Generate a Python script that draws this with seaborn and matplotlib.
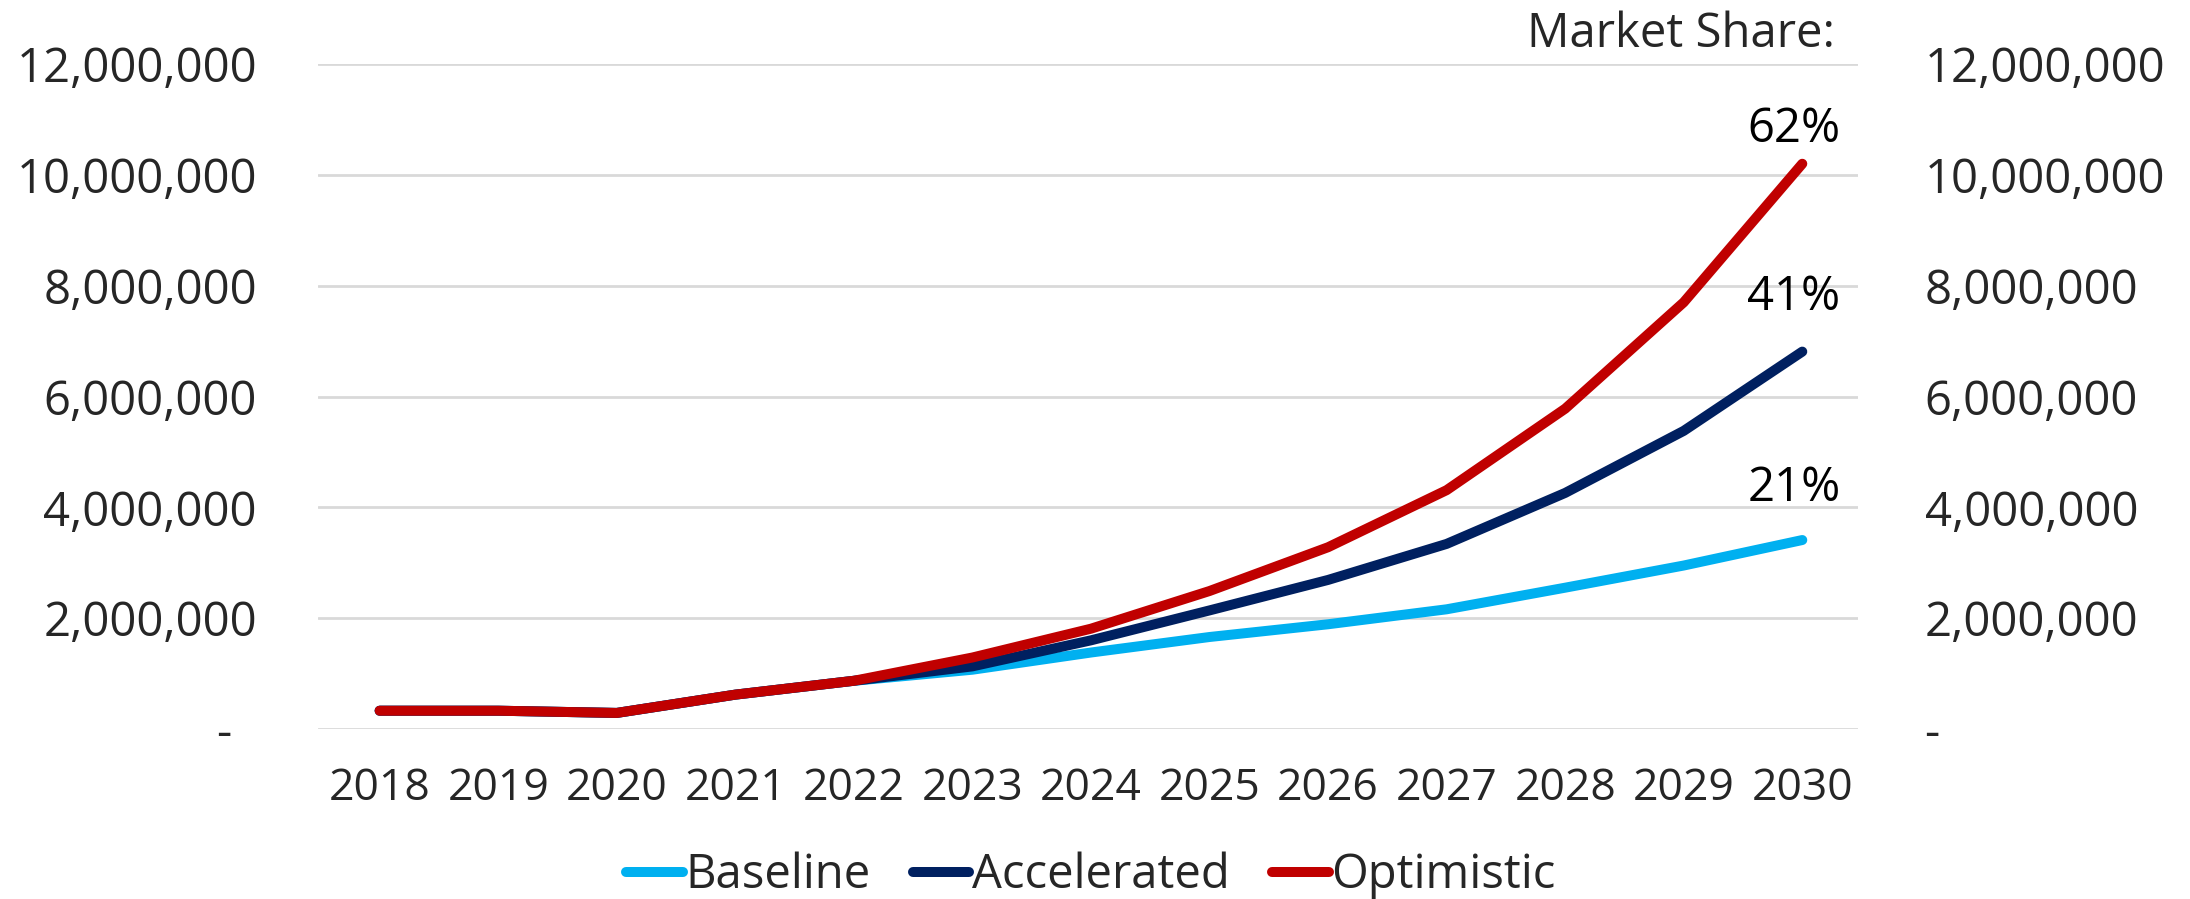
import matplotlib
matplotlib.use("Agg")
import matplotlib.pyplot as plt
import seaborn as sns
import pandas as pd
from matplotlib.ticker import FuncFormatter

years = [2018, 2019, 2020, 2021, 2022, 2023, 2024, 2025, 2026, 2027, 2028, 2029, 2030]
baseline = [330000, 330000, 290000, 620000, 870000, 1070000, 1380000, 1660000, 1890000, 2160000, 2550000, 2950000, 3410000]
accelerated = [330000, 330000, 290000, 620000, 870000, 1130000, 1600000, 2140000, 2690000, 3340000, 4260000, 5380000, 6810000]
optimistic = [330000, 330000, 290000, 620000, 870000, 1290000, 1810000, 2490000, 3280000, 4310000, 5780000, 7700000, 10200000]
scenarios = ["Baseline", "Accelerated", "Optimistic"]
shares = ["21%", "41%", "62%"]
colors = ["#00B0F0", "#002060", "#C00000"]

df = pd.DataFrame({
    "Year": years * 3,
    "Vehicles": baseline + accelerated + optimistic,
    "Scenario": [s for s in scenarios for _ in years],
})

sns.set_style("white")
plt.rcParams["font.family"] = ["Open Sans", "DejaVu Sans"]
FS = 34

fig = plt.figure(figsize=(21.9, 8.99), dpi=100)
ax = fig.add_axes([0.1452, 0.1891, 0.8484 - 0.1452, 0.9288 - 0.1891])

sns.lineplot(data=df, x="Year", y="Vehicles", hue="Scenario", hue_order=scenarios,
             palette=colors, linewidth=7.2, solid_capstyle="round", ax=ax, legend=True)

ymax = 12_000_000
ticks = list(range(0, ymax + 1, 2_000_000))


def fmt(v, pos=None):
    return "-  " if v == 0 else f"{int(v):,}"


ax.set_xlim(2017.48, 2030.47)
ax.set_ylim(0, ymax)
ax.set_xticks(years)
ax.set_yticks(ticks)
ax.yaxis.set_major_formatter(FuncFormatter(fmt))
ax.set_xlabel("")
ax.set_ylabel("")
ax.grid(axis="y", color="#D9D9D9", linewidth=2)
ax.grid(axis="x", visible=False)
ax.tick_params(axis="y", length=0, pad=44, labelsize=FS)
ax.tick_params(axis="x", length=0, pad=27, labelsize=32)
for s in ax.spines.values():
    s.set_visible(False)

ax2 = ax.twinx()
ax2.set_ylim(0, ymax)
ax2.set_yticks(ticks)
ax2.yaxis.set_major_formatter(FuncFormatter(fmt))
ax2.tick_params(axis="y", length=0, pad=48, labelsize=FS)
for s in ax2.spines.values():
    s.set_visible(False)

# share labels above the 2030 end points
ends = [baseline[-1], accelerated[-1], optimistic[-1]]
offsets = [37, 39, 25]
for val, lab, off in zip(ends, shares, offsets):
    ax.annotate(lab, xy=(years[-1], val), xytext=(-6, off), textcoords="offset points",
                ha="center", va="center", fontsize=FS, color="black")

fig.text(0.838, 0.948, "Market Share:", ha="right", va="baseline", fontsize=FS)

handles, labels = ax.get_legend_handles_labels()
ax.get_legend().remove()
for h in handles:
    h.set_solid_capstyle("round")
fig.legend(handles, labels, loc="center", bbox_to_anchor=(0.498, 0.026), ncol=3,
           frameon=False, fontsize=FS, handlelength=1.2, handletextpad=0.05,
           columnspacing=0.9, borderaxespad=0)

fig.savefig("out.png", dpi=100)
